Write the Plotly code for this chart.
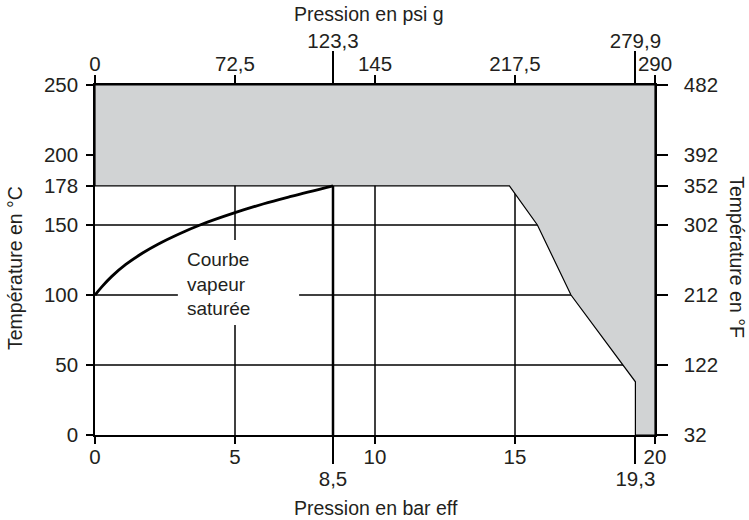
import plotly.graph_objects as go

# ---------------- data ----------------
# saturated steam curve (bar g -> °C)
sat_p = [0, 0.25, 0.6, 1.1, 1.7, 2.25, 3, 3.75, 5, 6, 7, 8.5]
sat_t = [100, 106, 113.3, 121.8, 130, 136.3, 143.6, 150, 158.8, 165, 170.4, 178]

# limit of the grey (forbidden) area
limit_p = [0, 14.8, 15.8, 17.0, 19.3, 19.3, 20, 20, 0, 0]
limit_t = [178, 178, 150, 100, 38, 0, 0, 250, 250, 178]

# bottom axis (bar eff)
bar_ticks = [0, 5, 10, 15, 20]
bar_text = ["0", "5", "10", "15", "20"]
bar_special = [8.5, 19.3]
bar_special_text = ["8,5", "19,3"]

# top axis (psi g)
psi_text = ["0", "72,5", "145", "217,5", "290"]
psi_special_text = ["123,3", "279,9"]

# left / right axis
c_ticks = [0, 50, 100, 150, 178, 200, 250]
c_text = ["0", "50", "100", "150", "178", "200", "250"]
f_text = ["32", "122", "212", "302", "352", "392", "482"]

grid_t = [50, 100, 150]
grid_p = [5, 10, 15]

label_box_p = [2.96, 7.29]
label_box_t = [78.6, 139.3]

FONT = "Liberation Sans, Arial, sans-serif"
TXT = "#231f20"
GREY = "#d1d3d4"

fig = go.Figure()

# grid lines
gx, gy = [], []
for t in grid_t:
    gx += [0, 20, None]
    gy += [t, t, None]
for p in grid_p:
    gx += [p, p, None]
    gy += [0, 250, None]
fig.add_trace(go.Scatter(x=gx, y=gy, mode="lines", line=dict(color="black", width=1.5),
                         hoverinfo="skip", showlegend=False))

# white box behind label
fig.add_trace(go.Scatter(
    x=[label_box_p[0], label_box_p[1], label_box_p[1], label_box_p[0], label_box_p[0]],
    y=[label_box_t[0], label_box_t[0], label_box_t[1], label_box_t[1], label_box_t[0]],
    mode="lines", fill="toself", fillcolor="white", line=dict(width=0),
    hoverinfo="skip", showlegend=False))

# grey area
fig.add_trace(go.Scatter(x=limit_p, y=limit_t, mode="lines", fill="toself", fillcolor=GREY,
                         line=dict(color="black", width=1.2), hoverinfo="skip", showlegend=False))

# 8.5 bar vertical
fig.add_trace(go.Scatter(x=[bar_special[0], bar_special[0]], y=[0, sat_t[-1]], mode="lines",
                         line=dict(color="black", width=2.5), hoverinfo="skip", showlegend=False))

# saturated steam curve
fig.add_trace(go.Scatter(x=sat_p, y=sat_t, mode="lines", line=dict(color="black", width=2.8, shape="spline"),
                         hoverinfo="skip", showlegend=False))

tickfont = dict(family=FONT, size=20.5, color=TXT)
common = dict(range=[0, 20], showgrid=False, zeroline=False, ticks="outside", automargin=False,
              tickcolor="black", tickfont=tickfont, fixedrange=True)

fig.update_layout(
    width=749, height=520,
    margin=dict(l=95, r=94, t=85, b=85, autoexpand=False),
    paper_bgcolor="white", plot_bgcolor="white",
    xaxis=dict(**common, tickvals=bar_ticks, ticktext=bar_text, ticklen=7, tickwidth=1.5,
               showline=True, linecolor="black", linewidth=1.5, side="bottom", ticklabelstandoff=-4),
    xaxis2=dict(**common, tickvals=bar_ticks, ticktext=psi_text, ticklen=8, tickwidth=1.5,
                showline=True, linecolor="black", linewidth=1.5, side="top", overlaying="x", anchor="y",
                ticklabelstandoff=-4),
    xaxis3=dict(**common, tickvals=bar_special, ticktext=bar_special_text, ticklen=28, tickwidth=2.2,
                showline=False, side="bottom", overlaying="x", anchor="y", ticklabelstandoff=-3),
    xaxis4=dict(**common, tickvals=bar_special, ticktext=psi_special_text, ticklen=33, tickwidth=2.2,
                showline=False, side="top", overlaying="x", anchor="y", ticklabelstandoff=-5),
    yaxis=dict(range=[0, 250], tickvals=c_ticks, ticktext=c_text, showgrid=False, zeroline=False,
               ticks="outside", ticklen=7, tickwidth=1.5, tickcolor="black", tickfont=tickfont,
               showline=True, linecolor="black", linewidth=1.5, fixedrange=True, automargin=False,
               ticklabelstandoff=4),
    yaxis2=dict(range=[0, 250], tickvals=c_ticks, ticktext=f_text, showgrid=False, zeroline=False,
                ticks="outside", ticklen=11, tickwidth=1.5, tickcolor="black", tickfont=tickfont,
                showline=True, linecolor="black", linewidth=1.5, side="right", overlaying="y",
                anchor="x", fixedrange=True, automargin=False, ticklabelstandoff=12),
)

# invisible traces to activate extra axes
for xa, ya in [("x2", "y"), ("x3", "y"), ("x4", "y"), ("x", "y2")]:
    fig.add_trace(go.Scatter(x=[None], y=[None], xaxis=xa, yaxis=ya, showlegend=False, hoverinfo="skip"))

titlefont = dict(family=FONT, size=19.5, color=TXT)
fig.add_annotation(text="Pression en psi g", xref="paper", yref="paper", x=0.489, y=1.203,
                   showarrow=False, font=titlefont, xanchor="center", yanchor="middle")
fig.add_annotation(text="Pression en bar eff", xref="paper", yref="paper", x=0.501, y=-0.2086,
                   showarrow=False, font=titlefont, xanchor="center", yanchor="middle")
fig.add_annotation(text="Température en °C", xref="paper", yref="paper", x=-0.143, y=0.477,
                   showarrow=False, font=titlefont, textangle=-90, xanchor="center", yanchor="middle")
fig.add_annotation(text="Température en °F", xref="paper", yref="paper", x=1.146, y=0.5086,
                   showarrow=False, font=titlefont, textangle=90, xanchor="center", yanchor="middle")

fig.add_annotation(text="Courbe<br>vapeur<br>saturée", xref="x", yref="y", x=3.21, y=107.9,
                   showarrow=False, align="left", xanchor="left", yanchor="middle",
                   font=dict(family=FONT, size=19, color=TXT))

fig.write_html("out.html", config={"displayModeBar": False},
               post_script="document.body.style.margin='0';document.body.style.overflow='hidden';")
